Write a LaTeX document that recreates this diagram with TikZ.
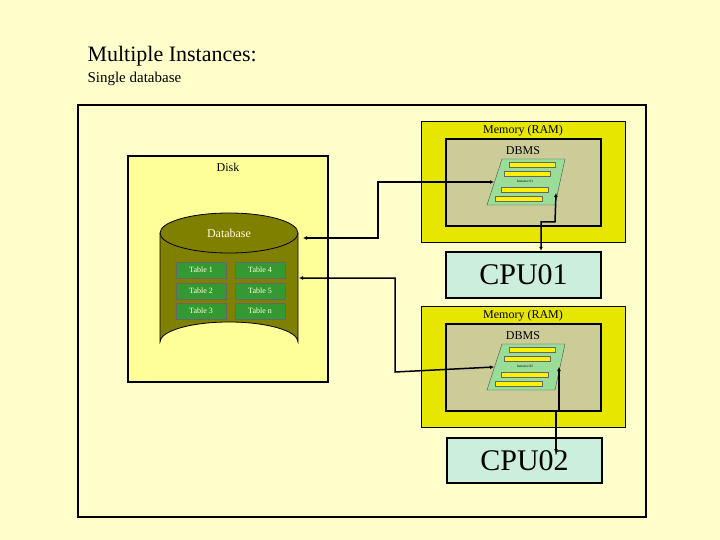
\documentclass[tikz,border=0pt]{standalone}
\usepackage{fontspec}
\setmainfont{Liberation Serif}
\usetikzlibrary{arrows.meta,shapes.geometric}
\definecolor{paper}{HTML}{FFFFCC}
\definecolor{diskfill}{HTML}{FFFF99}
\definecolor{dbolive}{HTML}{808000}
\definecolor{tablegreen}{HTML}{339933}
\definecolor{ramyellow}{HTML}{E6E600}
\definecolor{dbmstan}{HTML}{CCCC99}
\definecolor{instgreen}{HTML}{99DD99}
\definecolor{cpufill}{HTML}{CCEEDD}
\tikzset{
  box/.style={draw, line width=2.5pt, inner sep=0pt},
  ram/.style={draw, thin, fill=ramyellow, inner sep=0pt},
  tbl/.style={draw=black!60, fill=tablegreen, text=white!85!yellow, font=\fontsize{8}{8}\selectfont},
  bar/.style={draw=black!60, fill=yellow},
  link/.style={line width=1.5pt, {Latex[length=4pt,width=4pt]}-{Latex[length=4pt,width=4pt]}}
}
\begin{document}
\begin{tikzpicture}[x=1pt,y=-1pt]
	\useasboundingbox (0,0) rectangle (720,540);
	\fill[paper] (0,0) rectangle (720,540);
	\node[anchor=base west, font=\fontsize{22}{22}\selectfont] (title) at (84,62) {Multiple Instances:};
	\node[anchor=base west, font=\fontsize{15}{15}\selectfont] (subtitle) at (84,83) {Single database};
	\draw[line width=2.5pt] (78,105) rectangle (646,517);
	
	% disk with the database
	\draw[box, fill=diskfill] (128,156) rectangle (328,382);
	\node[font=\fontsize{12}{12}\selectfont] (disk) at (228,167) {Disk};
	\draw[thick, fill=dbolive] (160,233) -- (160,342) arc[start angle=180, end angle=360, x radius=69, y radius=20] -- (298,233);
	\draw[thick, fill=dbolive] (229,233) ellipse[x radius=69, y radius=20];
	\node[text=white!85!yellow, font=\fontsize{12}{12}\selectfont] (db) at (229,233) {Database};
	\node[tbl, minimum width=50pt, minimum height=16pt] (t1) at (201,270) {Table 1};
	\node[tbl, minimum width=50pt, minimum height=16pt] (t2) at (201,291) {Table 2};
	\node[tbl, minimum width=50pt, minimum height=16pt] (t3) at (201,311) {Table 3};
	\node[tbl, minimum width=50pt, minimum height=16pt] (t4) at (260,270) {Table 4};
	\node[tbl, minimum width=50pt, minimum height=16pt] (t5) at (260,291) {Table 5};
	\node[tbl, minimum width=50pt, minimum height=16pt] (tn) at (260,311) {Table n};
	\coordinate (dbin1) at (303,238);
	\coordinate (dbin2) at (299,278);
	
	% two memories with their instance and cpu
	\foreach \k/\dy/\num in {1/0/01, 2/185/02} {
	\begin{scope}[yshift=-\dy pt]
	\node[ram, minimum width=204pt, minimum height=121pt] (ram\k) at (523,181.5) {};
	\node[font=\fontsize{12}{12}\selectfont] (ramlabel\k) at (523,131) {Memory (RAM)};
	\node[box, fill=dbmstan, minimum width=155pt, minimum height=87pt] (dbms\k) at (523.5,182.5) {};
	\node[font=\fontsize{12}{12}\selectfont] (dbmslabel\k) at (523,151) {DBMS};
	\draw[fill=instgreen, draw=black!70] (502,159) -- (565,159) -- (555,205) -- (487,205) -- cycle;
	\draw[bar] (509,162) rectangle (555,167);
	\draw[bar] (504,171) rectangle (550,176);
	\draw[bar] (501,187) rectangle (548,192);
	\draw[bar] (495,196) rectangle (542,201);
	\node[font=\fontsize{3.5}{3.5}\selectfont] (inst\k) at (525,181.5) {Instance \num};
	\coordinate (instin\k) at (494,182);
	\coordinate (instcpu\k) at (556,193);
	\end{scope}
	}
	\node[box, fill=cpufill, minimum width=155pt, minimum height=46pt, font=\fontsize{30}{30}\selectfont] (cpu1) at (523.5,275) {CPU01};
	\node[box, fill=cpufill, minimum width=155pt, minimum height=45pt, font=\fontsize{30}{30}\selectfont] (cpu2) at (524.5,460.5) {CPU02};
	
	\draw[link] (dbin1) -- (378,238) -- (378,182) -- (instin1);
	\draw[link] (dbin2) -- (395,278) -- (395,372) -- (instin2);
	\draw[link] (cpu1.north -| 541,0) -- (541,222) -- (555,222) -- (instcpu1);
	\draw[link] (556,453) -- (556,411) -- (559,411) -- (559,367);
\end{tikzpicture}
\end{document}
